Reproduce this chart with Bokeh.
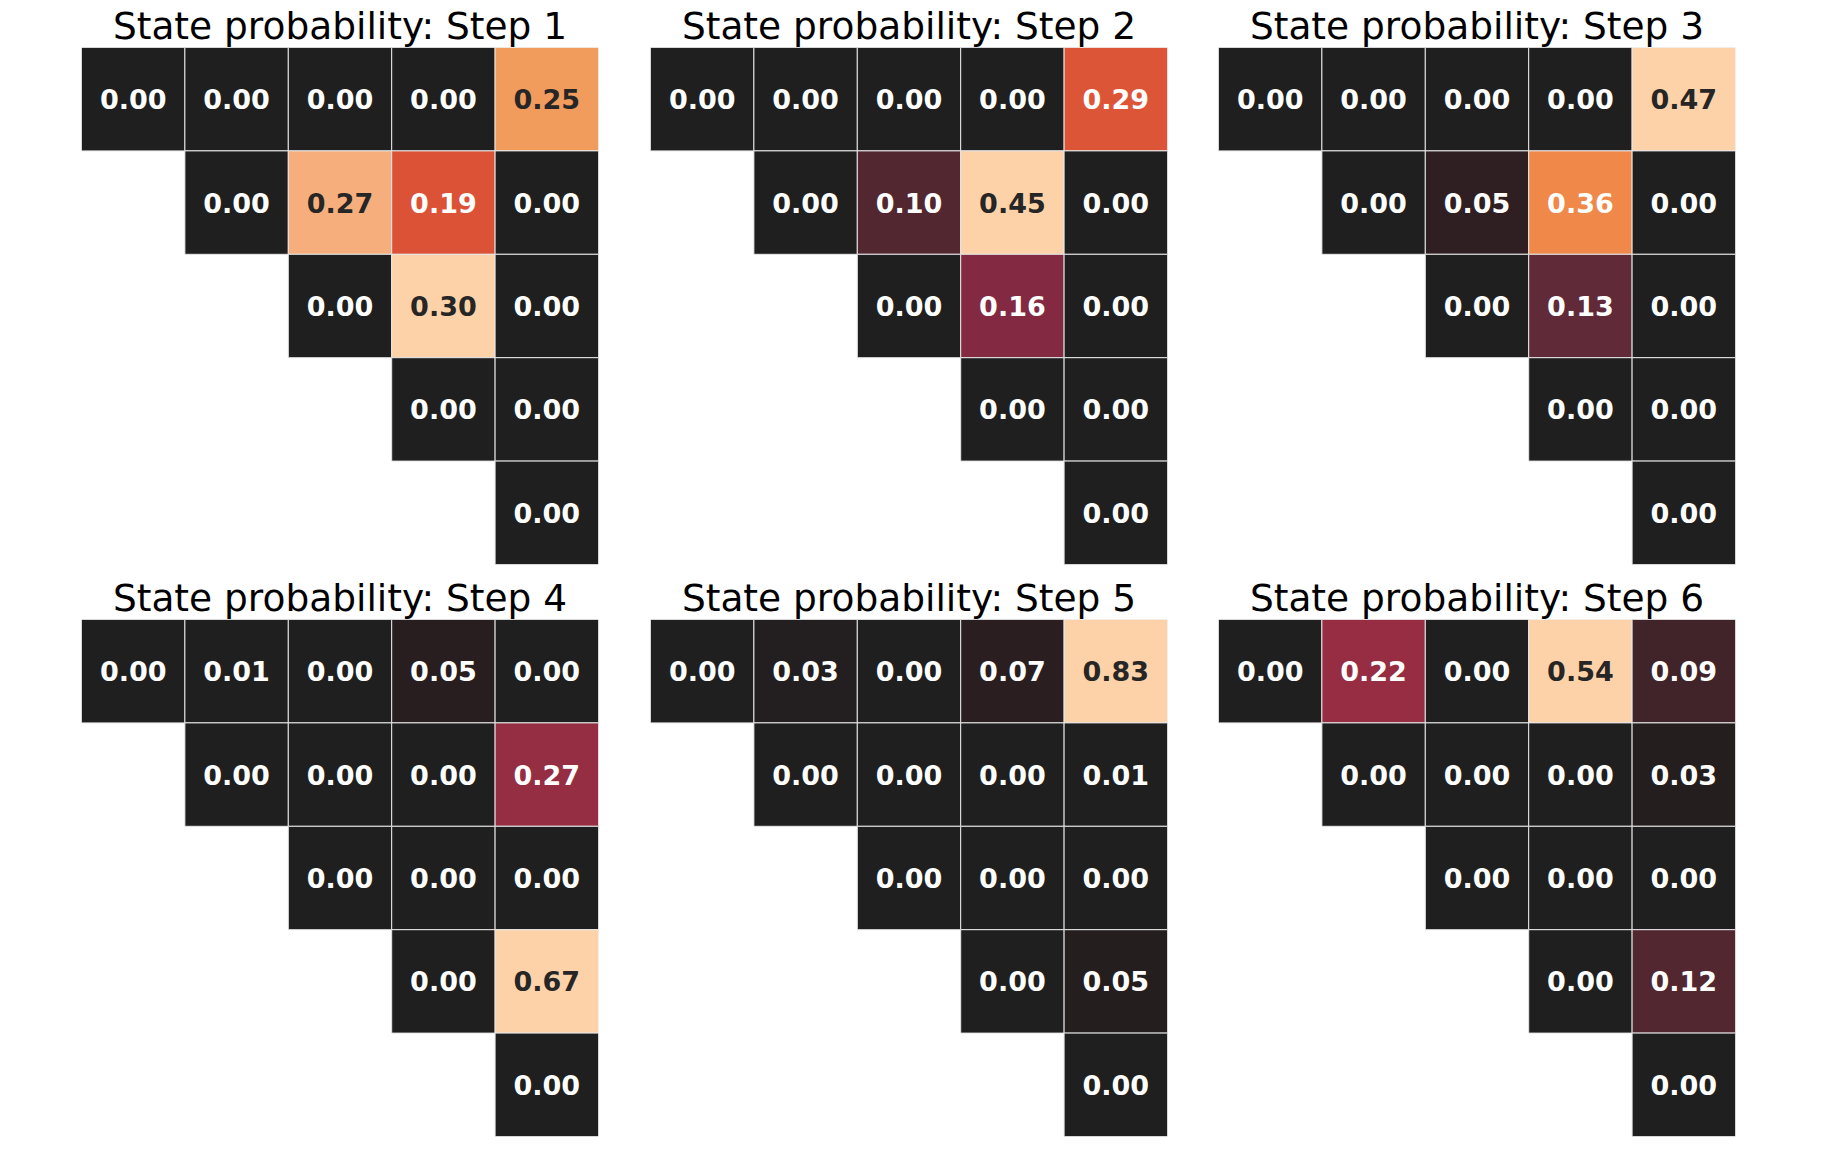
import numpy as np
from bokeh.plotting import figure
from bokeh.layouts import column, row
from bokeh.models import ColumnDataSource, LinearColorMapper, Range1d
from bokeh.core.properties import value
from bokeh.embed import file_html
from bokeh.resources import INLINE

# ---- data: upper-triangular 5x5 state probabilities per step (None = masked) ----
step_titles = ["State probability: Step 1", "State probability: Step 2", "State probability: Step 3",
               "State probability: Step 4", "State probability: Step 5", "State probability: Step 6"]

step1 = [[0.00, 0.00, 0.00, 0.00, 0.25],
         [None, 0.00, 0.27, 0.19, 0.00],
         [None, None, 0.00, 0.30, 0.00],
         [None, None, None, 0.00, 0.00],
         [None, None, None, None, 0.00]]
step2 = [[0.00, 0.00, 0.00, 0.00, 0.29],
         [None, 0.00, 0.10, 0.45, 0.00],
         [None, None, 0.00, 0.16, 0.00],
         [None, None, None, 0.00, 0.00],
         [None, None, None, None, 0.00]]
step3 = [[0.00, 0.00, 0.00, 0.00, 0.47],
         [None, 0.00, 0.05, 0.36, 0.00],
         [None, None, 0.00, 0.13, 0.00],
         [None, None, None, 0.00, 0.00],
         [None, None, None, None, 0.00]]
step4 = [[0.00, 0.01, 0.00, 0.05, 0.00],
         [None, 0.00, 0.00, 0.00, 0.27],
         [None, None, 0.00, 0.00, 0.00],
         [None, None, None, 0.00, 0.67],
         [None, None, None, None, 0.00]]
step5 = [[0.00, 0.03, 0.00, 0.07, 0.83],
         [None, 0.00, 0.00, 0.00, 0.01],
         [None, None, 0.00, 0.00, 0.00],
         [None, None, None, 0.00, 0.05],
         [None, None, None, None, 0.00]]
step6 = [[0.00, 0.22, 0.00, 0.54, 0.09],
         [None, 0.00, 0.00, 0.00, 0.03],
         [None, None, 0.00, 0.00, 0.00],
         [None, None, None, 0.00, 0.12],
         [None, None, None, None, 0.00]]
steps = [step1, step2, step3, step4, step5, step6]

# ---- colormap (upper half of an icefire-like diverging map, centred at 0) ----
anchor_pos = [0.0, 0.06, 0.106, 0.167, 0.222, 0.277, 0.356, 0.407, 0.52, 0.633, 0.766, 0.833, 0.90, 1.0]
anchor_rgb = [(31, 31, 31), (37, 30, 31), (47, 31, 34), (66, 35, 42), (83, 39, 48), (98, 42, 56),
              (131, 42, 66), (150, 45, 67), (195, 55, 60), (219, 81, 54), (239, 135, 72),
              (241, 154, 92), (246, 174, 123), (254, 210, 168)]
t = np.linspace(0, 1, 256)
arr = np.array(anchor_rgb, dtype=float)
lut = np.stack([np.interp(t, anchor_pos, arr[:, k]) for k in range(3)], axis=1)
lut = np.round(lut).astype(int)
palette = ["#%02x%02x%02x" % tuple(c) for c in lut]


def text_color(frac):
    idx = int(np.clip(round(frac * 255), 0, 255))
    rgb = lut[idx] / 255.0
    lin = np.where(rgb <= 0.03928, rgb / 12.92, ((rgb + 0.055) / 1.055) ** 2.4)
    lum = 0.2126 * lin[0] + 0.7152 * lin[1] + 0.0722 * lin[2]
    return "#262626" if lum > 0.408 else "#ffffff"


def make_panel(mat, title, left, right, top, bottom):
    xs, ys, vals, labels, tcols = [], [], [], [], []
    vmax = max(v for r in mat for v in r if v is not None)
    for i, r in enumerate(mat):
        for j, v in enumerate(r):
            if v is None:
                continue
            xs.append(j + 0.5)
            ys.append(i + 0.5)
            vals.append(v)
            labels.append("%.2f" % v)
            tcols.append(text_color(v / vmax))
    src = ColumnDataSource(dict(x=xs, y=ys, v=vals, label=labels, tc=tcols))
    mapper = LinearColorMapper(palette=palette, low=0, high=vmax)
    p = figure(frame_width=517, frame_height=517, x_range=Range1d(0, 5), y_range=Range1d(5, 0),
               x_axis_location=None, y_axis_location=None, toolbar_location=None,
               output_backend="svg", min_border_left=left, min_border_right=right,
               min_border_top=top, min_border_bottom=bottom, title=title)
    p.grid.visible = False
    p.outline_line_color = None
    p.background_fill_color = "white"
    p.border_fill_color = "white"
    p.title.text_font = "DejaVu Sans"
    p.title.text_font_size = "37.5px"
    p.title.text_font_style = "normal"
    p.title.text_color = "black"
    p.title.align = "center"
    p.title.standoff = 0
    p.rect(x="x", y="y", width=1, height=1, source=src,
           fill_color={"field": "v", "transform": mapper}, line_color="#e6e6e6", line_width=1)
    p.text(x="x", y="y", text="label", source=src, text_color="tc",
           text_font=value("DejaVu Sans"), text_font_style="bold", text_font_size="27px",
           text_align="center", text_baseline="middle")
    return p


borders_lr = [(81, 26), (26, 25), (26, 10)]
figs = []
for k in range(6):
    l, r = borders_lr[k % 3]
    if k < 3:
        figs.append(make_panel(steps[k], step_titles[k], l, r, 47, 8))
    else:
        figs.append(make_panel(steps[k], step_titles[k], l, r, 47, 10))

layout = column(row(*figs[:3]), row(*figs[3:]))
open("out.html", "w").write(file_html(layout, INLINE))
